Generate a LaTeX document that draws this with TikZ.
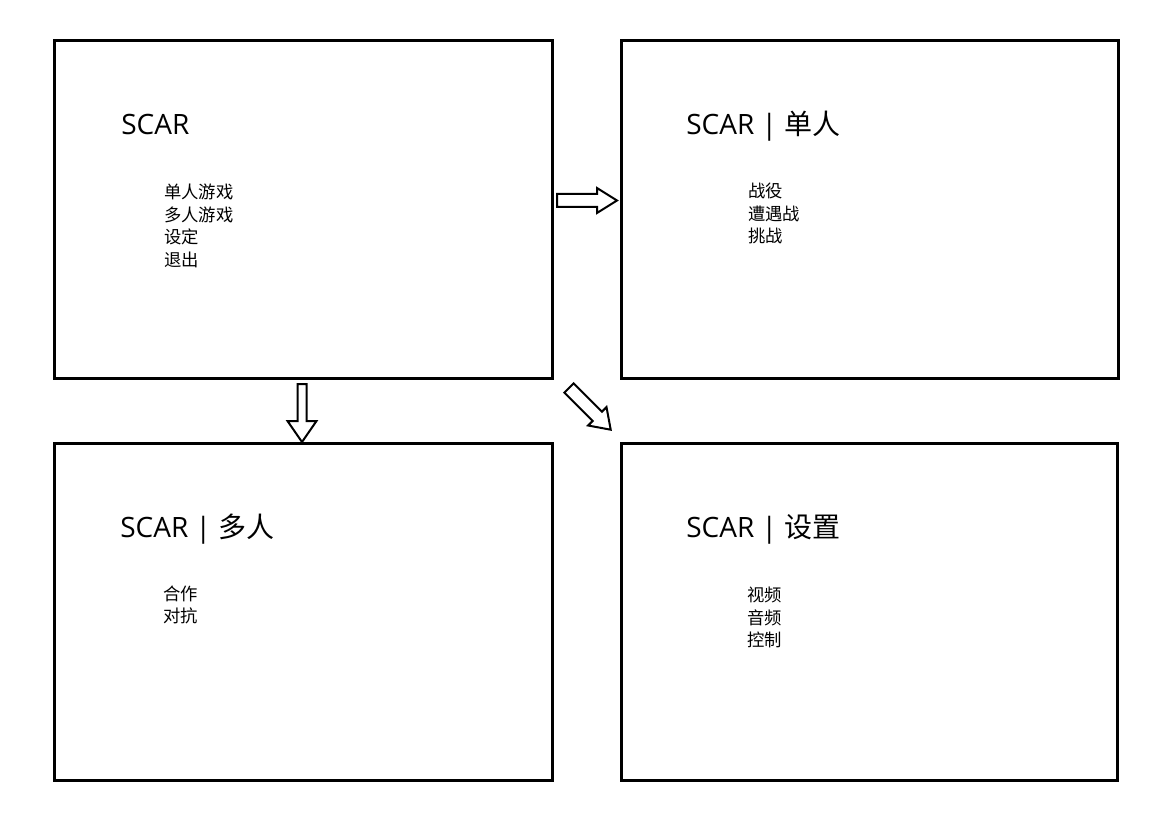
\documentclass[tikz,border=0pt]{standalone}
\usepackage{fontspec}
\setmainfont{Open Sans}
\newfontfamily\cjk{Noto Sans CJK SC}
\begin{document}
\begin{tikzpicture}[x=0.75pt,y=-0.75pt,
  screen/.style={draw=black,line width=2.25pt,fill=white},
  title/.style={anchor=base west,inner sep=0pt,font=\fontsize{21pt}{25pt}\selectfont},
  item/.style={anchor=base west,inner sep=0pt,font=\cjk\fontsize{13pt}{16pt}\selectfont},
  blockarrow/.style={draw=black,line width=1.5pt,fill=white,line join=miter}]
\useasboundingbox (0,0) rectangle (1169,827);
\fill[white] (0,0) rectangle (1169,827);

% screens
\draw[screen] (54,41) rectangle (552,378);
\draw[screen] (621,41) rectangle (1118,378);
\draw[screen] (54,443) rectangle (552,780);
\draw[screen] (621,443) rectangle (1117,780);

% titles
\node[title] (t1) at (121,135) {SCAR};
\node[title] (t2) at (686,135) {SCAR | {\cjk 单人}};
\node[title] (t3) at (120,537) {SCAR | {\cjk 多人}};
\node[title] (t4) at (686,537) {SCAR | {\cjk 设置}};

% main menu
\node[item] (m1) at (164,198.5) {单人游戏};
\node[item] (m2) at (164,221) {多人游戏};
\node[item] (m3) at (164,243.5) {设定};
\node[item] (m4) at (164,266) {退出};

% single player
\node[item] (s1) at (748,197.5) {战役};
\node[item] (s2) at (748,220) {遭遇战};
\node[item] (s3) at (748,242.5) {挑战};

% multiplayer
\node[item] (p1) at (163,600.5) {合作};
\node[item] (p2) at (163,622.5) {对抗};

% settings
\node[item] (c1) at (747,601.5) {视频};
\node[item] (c2) at (747,624) {音频};
\node[item] (c3) at (747,646.5) {控制};

% block arrows
\draw[blockarrow] (557,194) -- (597,194) -- (597,188) -- (617,200.5) -- (597,213) -- (597,207) -- (557,207) -- cycle;
\draw[blockarrow] (297.5,384) -- (306.5,384) -- (306.5,421) -- (316.5,421) -- (302,442) -- (287.5,421) -- (297.5,421) -- cycle;
\draw[blockarrow] (573.6,383.4) -- (601.9,411.7) -- (606.5,407.1) -- (610.7,429.7) -- (588.1,425.5) -- (592.7,420.9) -- (564.4,392.6) -- cycle;
\end{tikzpicture}
\end{document}
